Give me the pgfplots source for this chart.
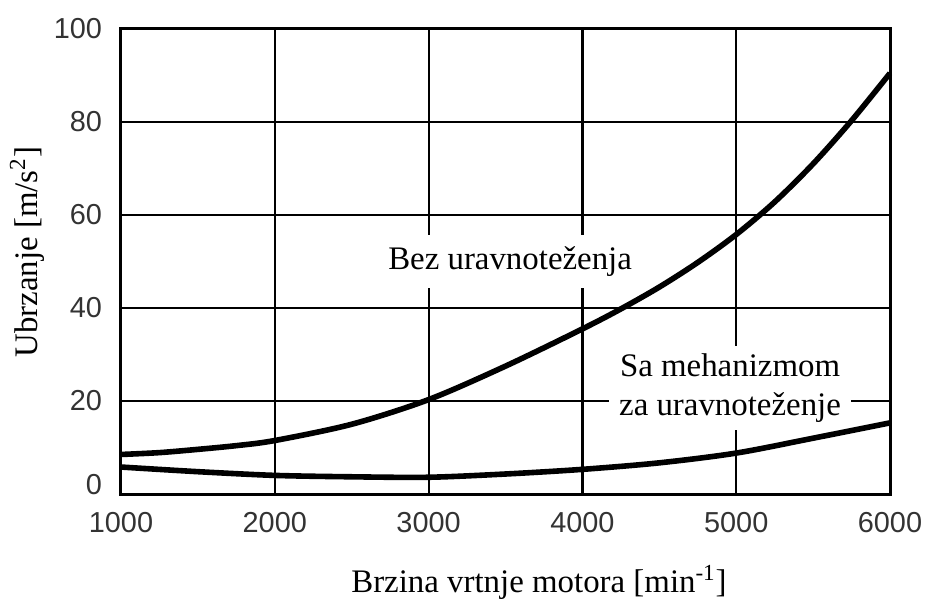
\documentclass[border=0pt]{standalone}
\usepackage{pgfplots}
\pgfplotsset{compat=1.18}
\usepackage{fontspec}
\setmainfont{Liberation Serif}
\setsansfont{Liberation Sans}

\pgfplotstableread{
x y
1000 8.5
1250 8.9
1500 9.6
1750 10.4
2000 11.5
2500 15.0
3000 20.3
3500 27.5
4000 35.5
4250 39.8
4500 44.5
4750 49.8
5000 55.8
5250 62.8
5500 71.0
5750 80.3
6000 90.5
}\bez

\pgfplotstableread{
x y
1000 5.8
1500 4.8
2000 4.0
2500 3.7
3000 3.6
3500 4.3
4000 5.3
4500 6.7
5000 8.8
5500 12.0
6000 15.3
}\sa

\begin{document}
\begin{tikzpicture}
\begin{axis}[
  scale only axis,
  width=384.5bp, height=232.5bp,
  xmin=1000, xmax=6000, ymin=0, ymax=100,
  xtick={1000,2000,3000,4000,5000,6000},
  ytick={0,20,40,60,80,100},
  xticklabels={1000,2000,3000,4000,5000,6000},
  yticklabels={\raisebox{10bp}{0},20,40,60,80,100},
  scaled ticks=false,
  major tick length=0pt,
  grid=major,
  major grid style={black, line width=1.1bp},
  axis line style={black, line width=1.5bp},
  ticklabel style={font=\sffamily\fontsize{14.5}{15}\selectfont, text=black!80},
  xticklabel style={yshift=-5.5bp},
  yticklabel style={xshift=-6bp},
  /pgf/number format/assume math mode=true,
  xlabel={Brzina vrtnje motora [min\textsuperscript{-1}]},
  ylabel={Ubrzanje [m/s\textsuperscript{2}]},
  label style={font=\fontsize{16.5}{18}\selectfont},
  xlabel style={at={(axis description cs:0.5436,-0.19)}, anchor=center},
  ylabel style={at={(axis description cs:-0.122,0.52)}, anchor=center},
  clip=false,
]
\node[fill=white, inner xsep=3bp, inner ysep=6bp, font=\fontsize{16.5}{19.5}\selectfont]
  at (axis cs:3530,50) {Bez uravnoteženja};
\node[fill=white, inner xsep=5bp, inner ysep=4bp, align=center, font=\fontsize{16.5}{19.5}\selectfont]
  at (axis cs:4960,22.8) {Sa mehanizmom\\za uravnoteženje};
\addplot[black, line width=2.8bp, smooth] table {\bez};
\addplot[black, line width=2.8bp, smooth] table {\sa};
\end{axis}
\pgfresetboundingbox
\useasboundingbox (-60.5bp,-52.5bp) rectangle (405.5bp,247bp);
\end{tikzpicture}
\end{document}
